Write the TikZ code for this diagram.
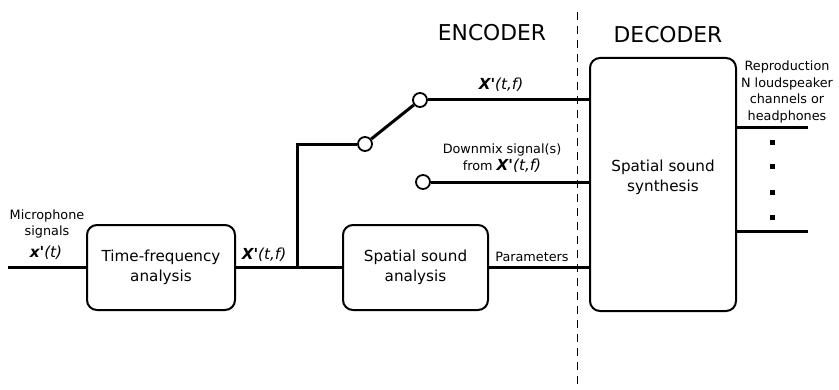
\documentclass[tikz,border=0pt]{standalone}
\usepackage{fontspec}
\newfontfamily\dejavu{DejaVu Sans}
\usetikzlibrary{positioning}

\begin{document}
\begin{tikzpicture}[x=0.5pt, y=-0.5pt,
                          blockbox/.style={rectangle, draw, rounded corners=5pt, line width=1pt, align=center, inner sep=0pt, font=\dejavu\fontsize{7.6}{10}\selectfont},
                          switchnode/.style={circle, draw, fill=white, line width=0.9pt, minimum size=7pt, inner sep=0pt},
                          dotmark/.style={rectangle, fill, minimum size=2.5pt, inner sep=0pt},
                          signal/.style={line width=1.5pt},
                          smalltext/.style={align=center, inner sep=0pt, font=\dejavu\fontsize{6.4}{8.3}\selectfont},
                          maintext/.style={align=center, inner sep=0pt, font=\dejavu\fontsize{7.6}{10}\selectfont},
                          bigtext/.style={inner sep=0pt, font=\dejavu\fontsize{10.9}{13}\selectfont},
                      ]
                      \useasboundingbox (0,0) rectangle (839,390);
                      %               %Nodes
                      \node[blockbox, minimum width=74pt, minimum height=42.5pt]    (tfa)    at (161,267.5)   {Time-frequency\\analysis};
                      \node[blockbox, minimum width=72.5pt, minimum height=42.5pt]  (ssa)    at (415.5,267.5) {Spatial sound\\analysis};
                      \node[blockbox, minimum width=73pt, minimum height=126.5pt,
                            label={[maintext, yshift=3.5pt]center:{Spatial sound\\synthesis}}]   (sss)    at (663,184.5)   {};
                      \node[switchnode]     (swlow)   at (365,144)    {};
                      \node[switchnode]     (swhigh)  at (420,100)    {};
                      \node[switchnode]     (dmx)     at (423,182)    {};
                      \coordinate (input)  at (8,267.5);
                      \coordinate (branch) at (297,267.5);
                      \coordinate (out1)   at (808,127);
                      \coordinate (out2)   at (808,231);
                      \coordinate (divtop) at (577,12);
                      \coordinate (divbot) at (577,390);

                      %               %Labels
                      \node[bigtext]    (enc)      at (492,33)   {ENCODER};
                      \node[bigtext]    (dec)      at (668,35)   {DECODER};
                      \node[smalltext]  (mic)      at (47,224)   {Microphone\\signals};
                      \node[maintext]   (micsig)   at (46,253)   {{\bfseries\itshape x'}\textit{(t)}};
                      \node[maintext]   (tflabel)  at (264,255)  {{\bfseries\itshape X'}\textit{(t,f)}};
                      \node[maintext]   (swlabel)  at (501,85)   {{\bfseries\itshape X'}\textit{(t,f)}};
                      \node[smalltext]  (dmxlabel) at (502,158)  {Downmix signal(s)\\from {\fontsize{7.6}{10}\selectfont{\bfseries\itshape X'}\textit{(t,f)}}};
                      \node[smalltext]  (params)   at (532,257)  {Parameters};
                      \node[smalltext]  (repro)    at (787,92)   {Reproduction\\N loudspeaker\\channels or\\headphones};
                      \foreach \y in {142,166,192,217}
                          \node[dotmark] at (772,\y) {};

                      %   %Lines
                      \draw[signal] (input) -- (tfa.west);
                      \draw[signal] (tfa.east) -- (ssa.west);
                      \draw[signal] (branch) |- (swlow.west);
                      \draw[signal] (swlow) -- (swhigh);
                      \draw[signal] (swhigh) -- (swhigh -| sss.west);
                      \draw[signal] (dmx) -- (dmx -| sss.west);
                      \draw[signal] (ssa.east) -- (ssa.east -| sss.west);
                      \draw[signal] (sss.east |- out1) -- (out1);
                      \draw[signal] (sss.east |- out2) -- (out2);
                      \draw[dash pattern=on 4pt off 3pt, line width=0.5pt] (divtop) -- (divbot);
                  \end{tikzpicture}
\end{document}
